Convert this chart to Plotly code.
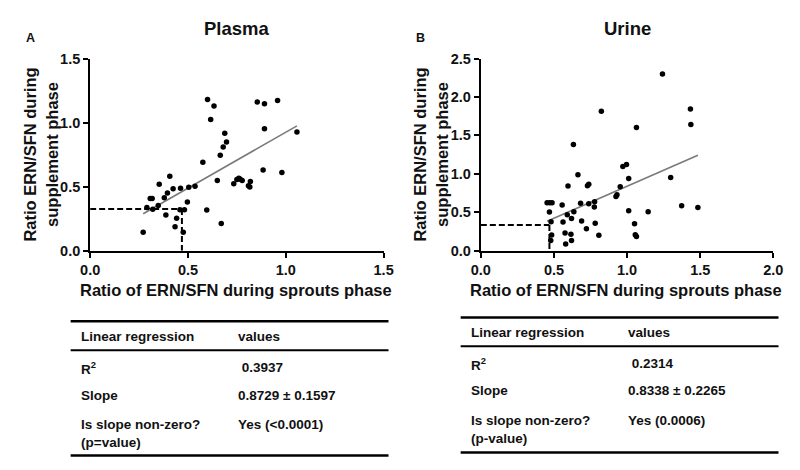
import plotly.graph_objects as go

# ---------------- data ----------------
plasma_x = [0.271, 0.290, 0.307, 0.317, 0.320, 0.348, 0.353, 0.379, 0.387, 0.395,
            0.407, 0.424, 0.434, 0.442, 0.459, 0.462, 0.476, 0.482, 0.497, 0.504,
            0.536, 0.576, 0.596, 0.600, 0.616, 0.633, 0.650, 0.665, 0.670, 0.680,
            0.688, 0.697, 0.734, 0.750, 0.760, 0.767, 0.777, 0.809, 0.816, 0.819,
            0.854, 0.884, 0.891, 0.891, 0.958, 0.980, 1.057]
plasma_y = [0.145, 0.338, 0.408, 0.408, 0.323, 0.353, 0.518, 0.413, 0.278, 0.451,
            0.581, 0.483, 0.188, 0.253, 0.320, 0.488, 0.145, 0.320, 0.380, 0.496,
            0.503, 0.691, 0.318, 1.180, 1.024, 1.129, 0.548, 0.746, 0.213, 0.809,
            0.917, 0.849, 0.523, 0.556, 0.566, 0.558, 0.548, 0.508, 0.498, 0.541,
            1.160, 0.629, 1.147, 0.952, 1.172, 0.611, 0.927]

urine_x = [0.453, 0.471, 0.487, 0.469, 0.480, 0.484, 0.478, 0.556, 0.562, 0.576,
           0.580, 0.596, 0.591, 0.616, 0.620, 0.620, 0.633, 0.636, 0.664, 0.682,
           0.689, 0.722, 0.729, 0.738, 0.738, 0.778, 0.782, 0.776, 0.807, 0.824,
           0.924, 0.931, 0.953, 0.971, 0.996, 1.011, 1.011, 1.051, 1.056, 1.064,
           1.064, 1.144, 1.242, 1.298, 1.373, 1.433, 1.436, 1.484]
urine_y = [0.624, 0.624, 0.624, 0.503, 0.377, 0.205, 0.134, 0.595, 0.373, 0.230,
           0.088, 0.842, 0.469, 0.214, 0.134, 0.419, 1.382, 0.507, 0.988, 0.616,
           0.385, 0.285, 0.846, 0.863, 0.611, 0.637, 0.356, 0.570, 0.201, 1.813,
           0.704, 0.729, 0.833, 1.097, 1.122, 0.938, 0.519, 0.352, 0.209, 0.184,
           1.604, 0.507, 2.299, 0.951, 0.586, 1.843, 1.642, 0.561]

plasma_slope, plasma_intercept = 0.8729, 0.052
urine_slope, urine_intercept = 0.8338, 0.005
plasma_cut_x, plasma_cut_y = 0.469, 0.326
urine_cut_x, urine_cut_y = 0.469, 0.335

plasma_x_ticks = [0.0, 0.5, 1.0, 1.5]
plasma_y_ticks = [0.0, 0.5, 1.0, 1.5]
urine_x_ticks = [0.0, 0.5, 1.0, 1.5, 2.0]
urine_y_ticks = [0.0, 0.5, 1.0, 1.5, 2.0, 2.5]

table_labels = ["Linear regression", "R<sup>2</sup>", "Slope", "Is slope non-zero?<br>(p=value)"]
table_labels_b = ["Linear regression", "R<sup>2</sup>", "Slope", "Is slope non-zero?<br>(p-value)"]
plasma_table_values = ["values", " 0.3937", "0.8729 ± 0.1597", "Yes (<0.0001)"]
urine_table_values = ["values", " 0.2314", "0.8338 ± 0.2265", "Yes (0.0006)"]

# ---------------- layout helpers ----------------
# page shows the figure offset by the 8px body margin; positions below are page pixels
W, H = 800, 470
OFF = 8
def px(x):
    return (x - OFF) / W
def py(y):
    return 1 - (y - OFF) / H

AX_FONT = "Liberation Sans, Arial, sans-serif"
TB_FONT = "Liberation Sans, Arial, sans-serif"

fig = go.Figure()

def regression_xy(xs, slope, intercept):
    x0, x1 = min(xs), max(xs)
    return [x0, x1], [intercept + slope * x0, intercept + slope * x1]

for xs, ys, slope, icp, cx, cy, xa, ya in [
    (plasma_x, plasma_y, plasma_slope, plasma_intercept, plasma_cut_x, plasma_cut_y, "x", "y"),
    (urine_x, urine_y, urine_slope, urine_intercept, urine_cut_x, urine_cut_y, "x2", "y2"),
]:
    # dashed reference lines
    fig.add_trace(go.Scatter(x=[0, cx], y=[cy, cy], mode="lines",
                             line=dict(color="black", width=2, dash="6px,3px"),
                             xaxis=xa, yaxis=ya, showlegend=False, hoverinfo="skip"))
    fig.add_trace(go.Scatter(x=[cx, cx], y=[cy, 0], mode="lines",
                             line=dict(color="black", width=2, dash="6px,3px"),
                             xaxis=xa, yaxis=ya, showlegend=False, hoverinfo="skip"))
    rx, ry = regression_xy(xs, slope, icp)
    fig.add_trace(go.Scatter(x=rx, y=ry, mode="lines",
                             line=dict(color="#7a7a7a", width=1.6),
                             xaxis=xa, yaxis=ya, showlegend=False))
    fig.add_trace(go.Scatter(x=xs, y=ys, mode="markers",
                             marker=dict(color="black", size=5.5),
                             xaxis=xa, yaxis=ya, showlegend=False, cliponaxis=False))

ydom = [py(251), py(52)]
axis_common = dict(showline=True, linecolor="black", linewidth=2, ticks="outside",
                   ticklen=5, tickwidth=2, tickcolor="black", showgrid=False,
                   zeroline=False, tickformat=".1f",
                   tickfont=dict(family=AX_FONT, size=14.5, color="#111", weight="bold"))

fig.update_layout(
    width=W, height=H, margin=dict(l=0, r=0, t=0, b=0),
    paper_bgcolor="white", plot_bgcolor="white",
    xaxis=dict(domain=[px(82), px(383)], range=[0, 1.5], tickvals=plasma_x_ticks,
               anchor="y", **axis_common),
    yaxis=dict(domain=ydom, range=[0, 1.5], tickvals=plasma_y_ticks, anchor="x", **axis_common),
    xaxis2=dict(domain=[px(482.7), px(782.7)], range=[0, 2.0], tickvals=urine_x_ticks,
                anchor="y2", **axis_common),
    yaxis2=dict(domain=ydom, range=[0, 2.5], tickvals=urine_y_ticks, anchor="x2", **axis_common),
)

annotations = []
def ann(text, x, y, size, family=AX_FONT, xanchor="center", yanchor="middle", angle=0,
        align="center", color="#111"):
    annotations.append(dict(text=text, x=px(x), y=py(y), xref="paper", yref="paper",
                            showarrow=False, xanchor=xanchor, yanchor=yanchor,
                            textangle=angle, align=align,
                            font=dict(family=family, size=size, color=color, weight="bold")))

# titles and panel letters
ann("Plasma", 233, 21, 18.5)
ann("Urine", 633, 21, 18.5)
ann("A", 21, 31, 12.5)
ann("B", 421, 31, 12.5)
# axis titles
for cx_ in (232, 632):
    ann("Ratio of ERN/SFN during sprouts phase", cx_, 292, 16.5)
ann("Ratio ERN/SFN during<br>supplement phase", 31, 151, 16.5, angle=-90)
ann("Ratio ERN/SFN during<br>supplement phase", 431, 151, 16.5, angle=-90)

# tables
shapes = []
def hline(x0, x1, y, w):
    shapes.append(dict(type="line", xref="paper", yref="paper", x0=px(x0), x1=px(x1),
                       y0=py(y), y1=py(y), line=dict(color="black", width=w)))

for (left, right, top, hdr, bottom, lx, vx, rows, labels, values) in [
    (62, 388, 324, 354, 463, 71, 232, [340, 372, 401, 429], table_labels, plasma_table_values),
    (462, 788, 320, 350, 460, 471, 632, [336, 368, 396, 425], table_labels_b, urine_table_values),
]:
    hline(left, right, top, 2.5)
    hline(left, right, hdr, 2)
    hline(left, right, bottom, 2.5)
    for i, (lab, val, ry_) in enumerate(zip(labels, values, rows)):
        if "<br>" in lab:
            ann(lab, lx, ry_ - 8, 13.5, family=TB_FONT, xanchor="left", yanchor="top", align="left")
            ann(val, vx, ry_ - 8, 13.5, family=TB_FONT, xanchor="left", yanchor="top", align="left")
        else:
            ann(lab, lx, ry_, 13.5, family=TB_FONT, xanchor="left")
            ann(val, vx, ry_, 13.5, family=TB_FONT, xanchor="left")

fig.update_layout(annotations=annotations, shapes=shapes)
fig.write_html("out.html")
